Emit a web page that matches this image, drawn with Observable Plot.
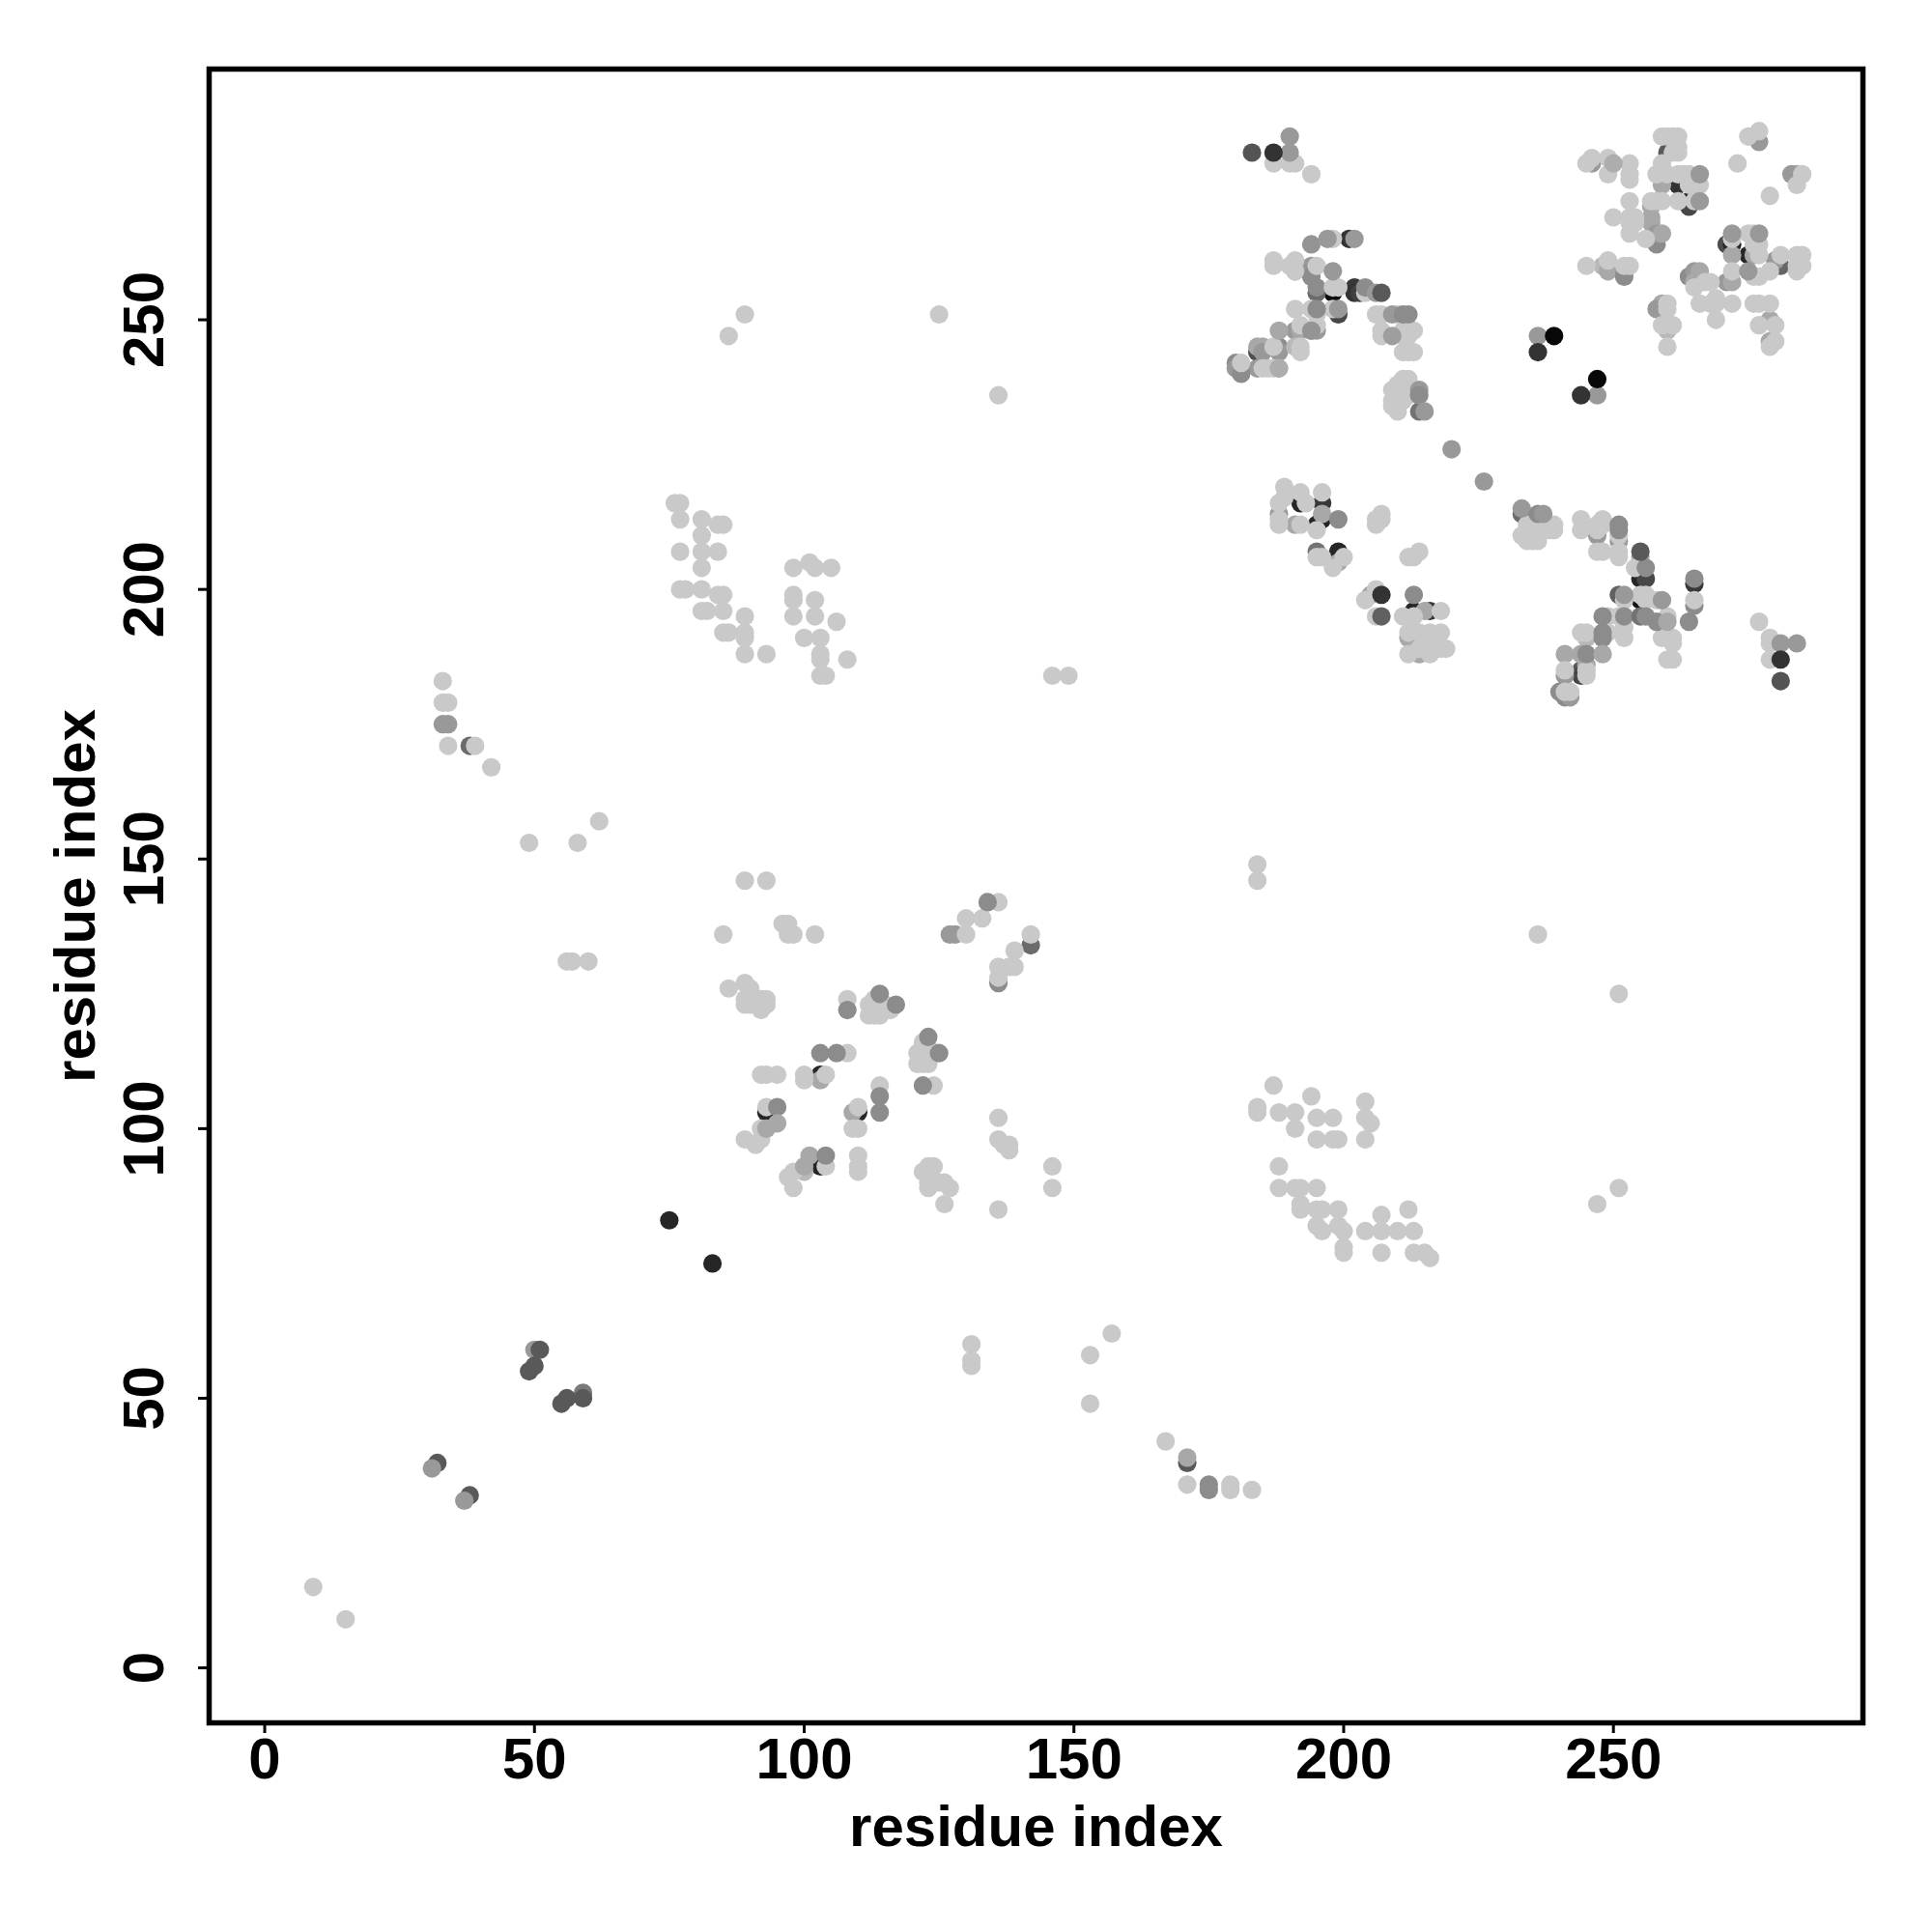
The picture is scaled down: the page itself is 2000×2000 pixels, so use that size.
<!DOCTYPE html>
<html><head><meta charset="utf-8">
<script src="https://cdn.jsdelivr.net/npm/d3@7"></script>
<script src="https://cdn.jsdelivr.net/npm/@observablehq/plot@0.6"></script>
<style>html,body{margin:0;background:#fff}</style></head>
<body><div id="chart"></div>
<script>
// [residue i, residue j, grey level]
const darkUnder = [
[201,265,.2],[184,244,.3],[198,255,.05],[202,256,.22],[202,255,.2],[203,255,.25],[199,251,.28],[214,233,.45],
[260,281,.35],[262,275,.2],[264,272,.15],[264,271,.28],[271,264,.3],[272,264,.15],[275,262,.15],[281,260,.4],
[192,216,.15],[196,216,.22],[196,213,.15],[195,212,.15],[195,207,.45],[199,207,.15],[212,195,.15],[213,196,.15],[216,196,.22],[216,191,.15],
[233,214,.42],[251,199,.38],[255,202,.15],[256,202,.28],[265,201,.22],[255,198,.08],[244,185,.35],[244,184,.28],
[103,110,.15],[110,103,.15],[93,103,.15],[103,93,.15],[38,171,.42],[171,38,.35],[32,38,.35],[38,32,.35],[142,134,.42]
];
const midUnder = [
[246,279,.6],[191,259,.62],[194,260,.6],[194,259,.58],[194,258,.55],[195,255,.42],[195,256,.55],[191,248,.6],[192,248,.66],[195,248,.6],[194,248,.55],
[188,245,.55],[188,244,.6],[185,245,.66],[184,245,.66],[185,244,.6],[184,241,.6],[180,242,.55],[180,241,.6],[181,240,.55],[191,245,.72],
[257,271,.66],[257,269,.66],[257,268,.66],[259,277,.66],[259,275,.66],[258,264,.55],[258,266,.6],[259,266,.66],
[276,284,.66],[277,283,.6],[284,277,.66],[283,277,.6],[272,262,.66],[276,262,.66],[271,257,.6],[272,257,.66],[280,261,.6],
[264,258,.55],[265,259,.6],[266,259,.66],[265,257,.66],[248,260,.72],[249,259,.66],[252,259,.6],[252,258,.55],
[259,253,.66],[258,252,.6],[279,250,.66],[279,246,.66],[260,248,.72],
[188,214,.6],[191,212,.66],[196,214,.66],[199,205,.66],[205,199,.66],[213,199,.55],[215,196,.66],[212,191,.66],[214,188,.66],
[247,210,.6],[255,206,.66],[251,209,.6],[265,197,.55],[241,184,.6],[240,181,.55],[241,180,.55],[242,180,.6],[245,186,.66],[241,188,.66],[245,191,.72],
[100,92,.72],[109,103,.66],[103,109,.66],[127,136,.6],[128,136,.6],[136,127,.55],[175,34,.55],[175,33,.55],[171,39,.66],[31,37,.6],[37,31,.6],[50,59,.6],[59,51,.48]
];
const light = [
[9,15],[15,9],[33,183],[33,179],[34,179],[34,171],[39,171],[42,167],[49,153],[58,153],[62,157],[56,131],[57,131],[60,131],
[89,251],[86,247],[125,251],[136,236],[146,184],[149,184],[184,149],[184,146],[236,136],[251,125],[247,86],[251,89],
[131,60],[131,57],[131,56],[153,58],[157,62],[153,49],[167,42],[171,34],[179,34],[179,33],[183,33],
[76,216],[77,216],[77,213],[77,207],[77,200],[78,200],[81,213],[81,210],[81,207],[81,204],[81,200],[81,196],[82,196],[84,212],[85,212],[84,207],[84,199],[85,199],[85,196],[85,192],[86,192],[89,195],[89,192],[89,191],[89,188],[93,188],
[98,204],[101,205],[102,204],[105,204],[98,199],[98,198],[98,195],[102,198],[102,195],[106,194],[100,191],[103,191],[103,188],[103,187],[108,187],[103,184],[104,184],
[89,146],[93,146],[85,136],[96,138],[97,138],[97,136],[98,136],[102,136],[130,136],[130,139],[133,139],[136,142],[142,136],[139,133],[136,130],[138,130],[139,130],[136,128],
[136,102],[136,98],[137,97],[138,97],[138,96],[136,85],[146,93],[146,89],
[86,126],[89,127],[90,126],[89,124],[89,123],[92,124],[93,124],[92,122],[93,123],[90,123],[91,123],[108,124],[112,123],[112,121],[113,121],[114,121],[113,124],[115,123],[116,122],
[122,116],[121,114],[121,112],[122,112],[123,112],[122,114],[123,115],[124,108],[108,114],[92,110],[93,110],[95,110],[100,110],[100,109],[104,110],[114,108],[110,104],[109,100],[110,100],[93,104],[92,100],[89,98],[92,98],[91,97],
[104,93],[97,91],[98,92],[98,89],[110,95],[110,93],[110,92],[122,92],[123,93],[124,93],[123,89],[124,90],[123,90],[125,90],[126,90],[127,89],[126,86],
[187,108],[184,104],[184,103],[188,103],[191,103],[191,100],[194,106],[195,102],[198,102],[195,98],[198,98],[199,98],[204,105],[204,102],[205,101],[204,98],[188,93],[188,89],[191,89],[192,89],[195,89],[192,86],[192,85],[195,85],[196,85],[199,85],[195,82],[199,82],[200,81],[196,81],[204,81],[207,84],[207,81],[212,85],[210,81],[213,81],[200,78],[200,77],[207,77],[213,77],[215,77],[216,76],
[187,279],[190,279],[191,279],[194,277],[198,265],[187,261],[187,260],[191,261],[190,260],[191,259],[195,260],[198,256],[199,256],[204,255],[191,252],[194,252],[198,252],[195,251],[206,251],[207,251],[210,251],[207,248],[207,247],[211,248],[213,248],[211,247],[212,247],[211,244],[213,244],[212,244],[192,249],[195,249],[192,245],[192,244],[187,245],[185,241],[187,241],[186,241],[188,241],[181,242],
[211,239],[212,239],[209,237],[210,238],[209,235],[210,236],[209,234],[210,233],[211,235],[212,236],
[245,279],[246,280],[249,280],[249,277],[253,279],[253,277],[253,276],[253,272],[250,269],[253,269],[253,266],[254,269],[254,268],[253,268],[256,265],[257,272],[258,272],[259,272],
[259,284],[260,284],[261,284],[262,284],[261,281],[262,282],[262,281],[259,279],[258,277],[260,277],[262,277],[263,277],[264,277],[264,275],[266,275],[265,276],[262,272],[265,272],
[277,285],[275,284],[273,279],[285,277],[284,275],[279,273],[275,266],[276,266],[272,265],[277,264],[276,264],[277,262],[281,262],[284,262],[285,262],[284,260],[285,260],[284,259],[272,259],[276,258],[277,258],[279,259],
[265,256],[267,257],[268,257],[266,253],[269,254],[269,253],[268,253],[272,253],[276,253],[277,253],[279,253],[269,250],[245,260],[249,261],[253,260],[252,260],[260,253],[260,252],[259,249],[261,249],[260,245],[277,249],[280,249],[280,246],[279,245],
[189,219],[192,218],[196,218],[188,216],[189,217],[193,216],[188,212],[188,213],[192,212],[195,211],[196,206],[195,206],[200,206],[198,204],[206,212],[207,214],[206,213],[207,213],[212,206],[214,207],[213,206],
[206,200],[204,198],[206,195],[211,195],[218,196],[213,195],[212,192],[214,192],[216,192],[218,192],[212,188],[214,189],[216,188],[218,189],[219,189],[215,189],[217,189],
[233,210],[234,212],[234,209],[235,212],[235,209],[236,209],[237,211],[238,211],[239,212],[239,211],[244,213],[244,211],[248,213],[247,212],[248,212],[247,211],[247,207],[248,207],[251,210],[251,207],[251,206],
[254,204],[265,198],[252,198],[255,199],[256,199],[256,198],[258,198],[249,195],[251,195],[260,195],[249,192],[252,191],[252,193],[244,192],[245,192],[261,191],[259,191],[261,190],[260,187],[261,187],
[241,185],[245,185],[245,184],[242,181],[241,181],[277,194],[279,191],[279,190],[279,187]
];
const midOver = [
[190,284,.6],[190,281,.6],[194,264,.58],[197,265,.6],[202,265,.6],[198,259,.6],[204,256,.55],[206,255,.6],[195,252,.55],[199,252,.6],[209,251,.6],[211,251,.55],[212,251,.55],[209,247,.62],
[188,248,.66],[194,248,.58],[188,241,.68],[214,237,.6],[214,236,.55],[215,233,.6],[220,226,.6],[226,220,.6],[236,247,.6],[247,236,.6],[250,279,.68],[266,277,.6],[266,272,.6],[272,266,.6],[277,266,.6],[275,259,.6],
[199,213,.55],[233,215,.6],[236,214,.55],[237,214,.6],[251,212,.55],[251,211,.55],[256,204,.55],[265,202,.55],[264,194,.55],[252,199,.6],[259,198,.6],[248,195,.55],[252,195,.55],[255,195,.45],[256,195,.55],[258,194,.55],[260,194,.66],[248,192,.55],[248,191,.55],
[244,188,.66],[245,188,.55],[248,188,.66],[281,190,.6],[284,190,.6],[108,122,.55],[114,125,.55],[117,123,.55],[123,117,.55],[125,114,.55],[122,108,.55],[103,114,.55],[106,114,.55],[114,106,.55],[114,103,.55],[95,104,.55],[95,101,.66],[93,100,.66],[101,95,.66],[104,95,.55],[100,93,.66],[134,142,.55],[33,175,.6],[34,175,.6]
];
const darkOver = [
[183,281,.33],[187,281,.2],[207,255,.35],[207,199,.2],[207,195,.38],[239,247,.03],[236,244,.2],[247,239,.03],[244,236,.2],[255,207,.35],[281,187,.2],[281,183,.33],
[75,83,.15],[83,75,.15],[49,55,.35],[50,56,.35],[51,59,.35],[55,49,.35],[56,50,.35],[59,50,.35]
];
const tickValues = [0, 50, 100, 150, 200, 250];
const axisLabel = "residue index";

const rows = [
  ...darkUnder, ...midUnder, ...light.map(d => [...d, .79]), ...midOver, ...darkOver
].map(([i, j, level]) => ({i, j, level}));

const font = {fontSize: 60, fontWeight: "bold", strokeWidth: 3};
const chart = Plot.plot({
  width: 2000, height: 2000,
  marginLeft: 216, marginRight: 72, marginTop: 71, marginBottom: 217,
  style: {fontFamily: "Liberation Sans", background: "white", color: "black"},
  x: {domain: [-10.3, 296.25]},
  y: {domain: [-10.2, 296.5]},
  color: {type: "linear", domain: [0, 1], range: ["#000", "#fff"]},
  marks: [
    Plot.dot(rows, {x: "i", y: "j", fill: "level", r: 9.6}),
    Plot.frame({stroke: "black", strokeWidth: 5.5}),
    Plot.axisX({ticks: tickValues, tickFormat: d => d, tickSize: 11, tickPadding: 4, label: axisLabel, labelAnchor: "center", labelArrow: "none", labelOffset: 127, ...font}),
    Plot.axisY({ticks: tickValues, tickFormat: d => d, tickSize: 11, tickPadding: 37, tickRotate: -90, label: axisLabel, labelAnchor: "center", labelArrow: "none", labelOffset: 161, ...font})
  ]
});
document.getElementById("chart").append(chart);
</script></body></html>
